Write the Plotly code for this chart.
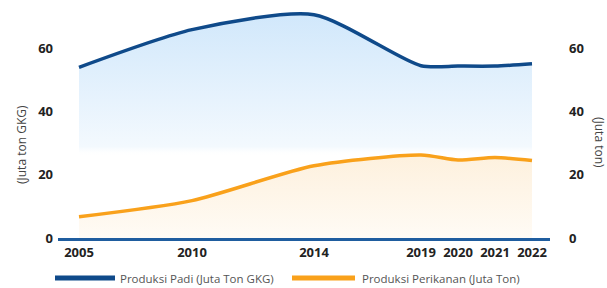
import plotly.graph_objects as go

# ---- data ----
years = ["2005", "2010", "2014", "2019", "2020", "2021", "2022"]
padi = [53.9, 65.8, 70.5, 54.4, 54.3, 54.3, 55.0]          # Juta Ton GKG
perikanan = [6.7, 11.8, 22.8, 26.2, 24.6, 25.4, 24.5]     # Juta Ton
y_ticks = [0, 20, 40, 60]
name_padi = "Produksi Padi (Juta Ton GKG)"
name_ikan = "Produksi Perikanan (Juta Ton)"

# ---- layout helpers (horizontal slots of the original design) ----
slot = [0, 113, 235, 342, 379, 416, 453]

W, H = 607, 288
L, R, T, B = 58, 57, 10, 50
pw, ph = W - L - R, H - T - B
def px(x):
    return (x - L) / pw
def py(y):
    return (H - B - y) / ph

BLUE = "#0f4a8a"
ORANGE = "#f9a11b"
FONT = "Open Sans"

fig = go.Figure()
fig.add_trace(go.Scatter(
    x=slot, y=padi, name=name_padi, mode="lines",
    line=dict(color=BLUE, width=3.5, shape="spline", smoothing=0.7),
    fill="tozeroy",
    fillgradient=dict(type="vertical", start=0, stop=72,
                      colorscale=[[0, "rgba(255,255,255,0)"],
                                  [0.36, "rgba(255,255,255,0)"],
                                  [0.40, "rgba(243,249,254,1)"],
                                  [1, "rgba(208,231,251,1)"]]),
    showlegend=False, yaxis="y", hoverinfo="skip"))
fig.add_trace(go.Scatter(
    x=slot, y=perikanan, name=name_ikan, mode="lines",
    line=dict(color=ORANGE, width=3.5, shape="spline", smoothing=0.7),
    fill="tozeroy",
    fillgradient=dict(type="vertical", start=0, stop=30,
                      colorscale=[[0, "rgba(255,251,245,1)"],
                                  [1, "rgba(253,239,218,1)"]]),
    showlegend=False, yaxis="y2", hoverinfo="skip"))

tickfont = dict(family=FONT, size=13, color="#222", weight="bold")
fig.update_layout(
    width=W, height=H, margin=dict(l=L, r=R, t=T, b=B),
    paper_bgcolor="white", plot_bgcolor="white",
    showlegend=False,
    xaxis=dict(range=[-21, 471], tickmode="array", tickvals=slot, ticktext=years,
               showgrid=False, zeroline=False, showline=True, linecolor="#1f5d9f",
               linewidth=3, ticks="", tickfont=tickfont),
    yaxis=dict(range=[0, 72], tickmode="array", tickvals=y_ticks,
               showgrid=False, zeroline=False, showline=False, ticks="",
               tickfont=tickfont, ticklabelstandoff=4),
    yaxis2=dict(range=[0, 72], tickmode="array", tickvals=y_ticks, overlaying="y",
                side="right", showgrid=False, zeroline=False, showline=False,
                ticks="", tickfont=tickfont, ticklabelstandoff=18),
)

txt = dict(family=FONT, size=12, color="#444")
fig.add_annotation(x=px(21), y=py(145), xref="paper", yref="paper",
                   xanchor="center", yanchor="middle",
                   text="(Juta ton GKG)", textangle=-90, showarrow=False, font=txt)
fig.add_annotation(x=px(600), y=py(142), xref="paper", yref="paper",
                   xanchor="center", yanchor="middle",
                   text="(Juta ton)", textangle=90, showarrow=False, font=txt)

# custom legend
leg_y = py(278)
lf = dict(family=FONT, size=11.5, color="#555")
for (x0, x1, xt, col, nm) in [(55, 115, 118, BLUE, name_padi),
                              (292, 355, 360, ORANGE, name_ikan)]:
    fig.add_shape(type="line", xref="paper", yref="paper",
                  x0=px(x0), x1=px(x1), y0=leg_y, y1=leg_y,
                  line=dict(color=col, width=5))
    fig.add_annotation(x=px(xt), y=leg_y, xref="paper", yref="paper",
                       text=nm, xanchor="left", yanchor="middle",
                       showarrow=False, font=lf)

fig.write_html("out.html", config={"displayModeBar": False},
               post_script="document.body.style.margin='0';")
